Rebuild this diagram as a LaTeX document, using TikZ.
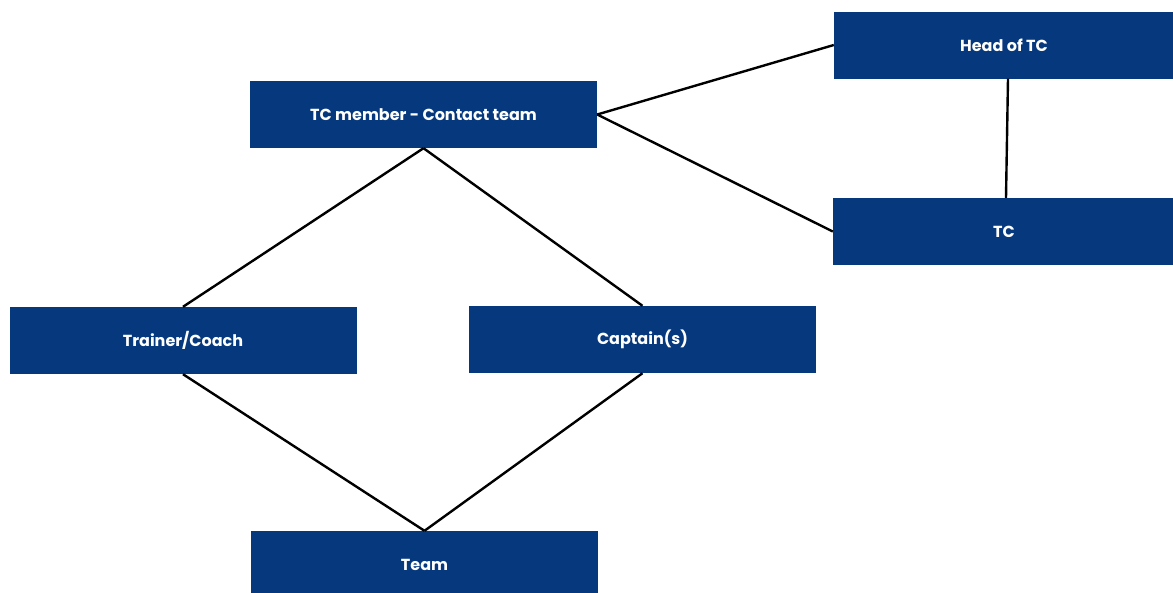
\documentclass[tikz,border=0pt]{standalone}
\usepackage{fontspec}
\setmainfont{Poppins}
\definecolor{boxblue}{HTML}{05387C}
\begin{document}
\begin{tikzpicture}[x=1pt,y=-1pt,
  box/.style={fill=boxblue,draw=none,minimum width=347pt,minimum height=67pt,inner sep=0pt,
    text=white,font=\fontsize{16}{18}\selectfont\bfseries},
  link/.style={draw=black,line width=2.4pt}]
\useasboundingbox (0,0) rectangle (1173,592);
\begin{scope}
\clip (0,0) rectangle (1173,592);
\node[box,minimum width=340pt] (head) at (1004,45) {Head of TC};
\node[box] (member) at (423.5,114.5) {TC member - Contact team};
\node[box,minimum width=342pt] (tc) at (1004,231.5) {TC};
\node[box] (trainer) at (183,340.5) {Trainer/Coach};
\node[box] (captain) at (642.5,339.5) {Captain(s)};
\node[box] (team) at (424.5,564.5) {Team};
\end{scope}
\draw[link] (member.east) -- (head.west);
\draw[link] (member.east) -- (tc.west);
\draw[link] ([xshift=4pt]head.south) -- ([xshift=2pt]tc.north);
\draw[link] (member.south) -- (trainer.north);
\draw[link] (member.south) -- (captain.north);
\draw[link] (trainer.south) -- (team.north);
\draw[link] (captain.south) -- (team.north);
\end{tikzpicture}
\end{document}
